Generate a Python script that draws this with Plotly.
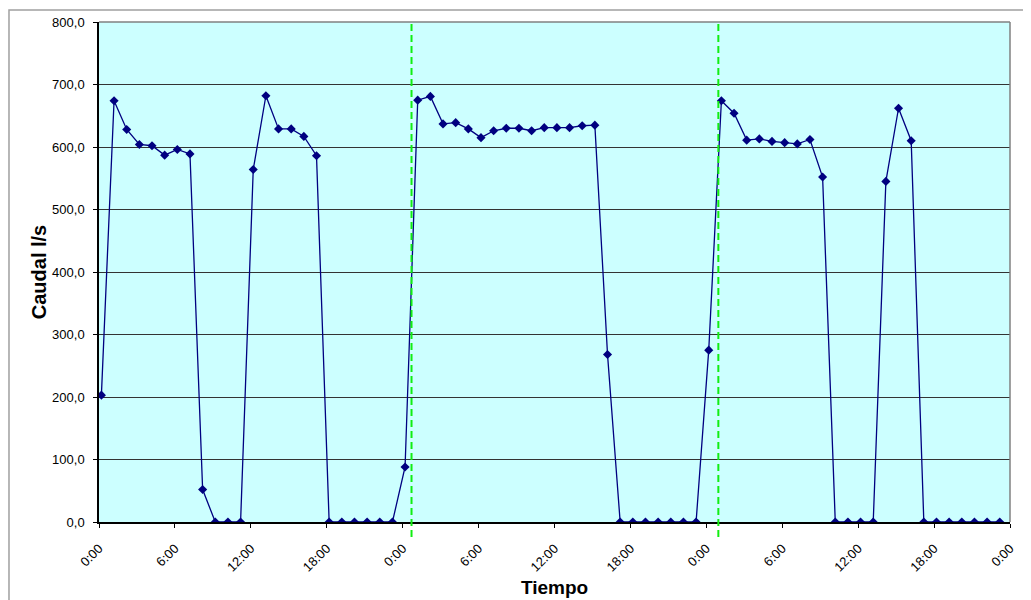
import plotly.graph_objects as go

# Hourly flow readings over three days (hours from start, first reading ~0:11)
hours = [0.19 + i for i in range(72)]
caudal = [203, 674, 628, 604, 602, 587, 596, 589, 52, 0, 0, 0,
          564, 682, 629, 629, 617, 586, 0, 0, 0, 0, 0, 0,
          88, 675, 681, 637, 639, 629, 615, 626, 630, 630, 626, 631,
          631, 631, 634, 635, 268, 0, 0, 0, 0, 0, 0, 0,
          275, 674, 654, 611, 613, 609, 607, 605, 612, 552, 0, 0,
          0, 0, 545, 662, 610, 0, 0, 0, 0, 0, 0, 0]

x_tick_vals = [0, 6, 12, 18, 24, 30, 36, 42, 48, 54, 60, 66, 72]
x_tick_text = ["0:00", "6:00", "12:00", "18:00", "0:00", "6:00", "12:00",
               "18:00", "0:00", "6:00", "12:00", "18:00", "0:00"]
y_tick_vals = [0, 100, 200, 300, 400, 500, 600, 700, 800]
y_tick_text = ["0,0", "100,0", "200,0", "300,0", "400,0", "500,0",
               "600,0", "700,0", "800,0"]
day_marks = [24.7, 48.95]

fig = go.Figure()
fig.add_trace(go.Scatter(
    x=hours, y=caudal, mode="lines+markers",
    line=dict(color="#000080", width=1.3),
    marker=dict(symbol="diamond", size=7, color="#000080"),
    showlegend=False,
))

shapes = []
for d in day_marks:
    shapes.append(dict(type="line", xref="x", yref="paper", x0=d, x1=d,
                       y0=-0.03, y1=1,
                       line=dict(color="#11EE11", width=2, dash="7px,4px")))
# plot-area border top/right
shapes.append(dict(type="line", xref="paper", yref="paper", x0=0, x1=1, y0=1, y1=1,
                   line=dict(color="#808080", width=1.5)))
shapes.append(dict(type="line", xref="paper", yref="paper", x0=1, x1=1, y0=0, y1=1,
                   line=dict(color="#808080", width=1.5)))
# outer chart border
shapes.append(dict(type="rect", xref="paper", yref="paper", x0=-0.0988, x1=1.0215,
                   y0=-0.2, y1=1.024, line=dict(color="#A0A0A0", width=1.5),
                   layer="below"))

fig.update_layout(
    width=1023, height=592,
    margin=dict(l=91, r=21, t=14, b=78, autoexpand=False),
    paper_bgcolor="white", plot_bgcolor="#CCFFFF",
    font=dict(family="Arial, Liberation Sans, sans-serif", size=13, color="black"),
    shapes=shapes,
    xaxis=dict(range=[0, 72], tickvals=x_tick_vals, ticktext=x_tick_text,
               tickangle=-45, showgrid=False, zeroline=False, automargin=False,
               showline=True, linecolor="black", linewidth=1.5,
               ticks="outside", ticklen=4, tickcolor="black",
               ticklabelstandoff=8, tickfont=dict(size=13),
               title=dict(text="<b>Tiempo</b>", font=dict(size=19), standoff=7)),
    yaxis=dict(range=[0, 800], tickvals=y_tick_vals, ticktext=y_tick_text,
               showgrid=True, gridcolor="#333333", gridwidth=1, zeroline=False,
               automargin=False,
               showline=True, linecolor="black", linewidth=1.5,
               ticks="outside", ticklen=4, tickcolor="black",
               ticklabelstandoff=6, tickfont=dict(size=13),
               title=dict(text="<b>Caudal l/s</b>", font=dict(size=20), standoff=0)),
)

fig.write_html("out.html")
